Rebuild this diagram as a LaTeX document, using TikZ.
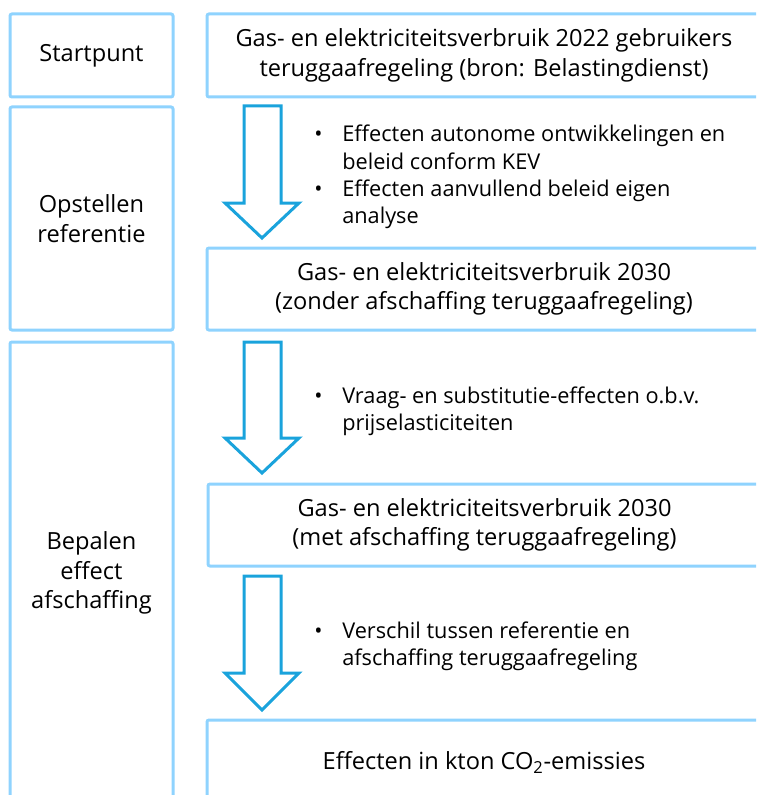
\documentclass[tikz,border=0pt]{standalone}
\usepackage{fontspec}
\setmainfont{Open Sans}
\usepackage{xcolor}
\usepackage{array}
\usetikzlibrary{positioning}

\newlength\px
\setlength\px{0.75pt}

\definecolor{boxblue}{HTML}{8FD3FE}
\definecolor{arrowblue}{HTML}{1AA3DC}

\begin{document}
\begin{tikzpicture}[
    x=0.75pt, y=-0.75pt,
    box/.style={rectangle, draw=boxblue, line width=3\px, rounded corners=2\px, align=center,
        inner sep=0pt, font=\fontsize{17.7}{22}\selectfont},
    blockarrow/.style={draw=arrowblue, line width=3\px, fill=white, line join=miter},
    bullets/.style={inner sep=0pt, anchor=base west, font=\fontsize{16.3}{20.5}\selectfont}
]
    \useasboundingbox (0,0) rectangle (756,795);
    \clip (0,0) rectangle (756,795);

    % Left column
    \node[box, minimum width=163\px, minimum height=83\px] (startpunt) at (91.5,55.5) {Startpunt};
    \node[box, minimum width=163\px, minimum height=223\px] (opstellen) at (91.5,218.5) {Opstellen\\referentie};
    \node[box, minimum width=163\px, minimum height=462\px] (bepalen) at (91.5,573) {Bepalen\\effect\\afschaffing};

    % Right column
    \node[box, minimum width=554\px, minimum height=83\px] (verbruik2022) at (484,55.5)
        {Gas- en elektriciteitsverbruik 2022 gebruikers\\teruggaafregeling (bron: Belastingdienst)};
    \node[box, minimum width=554\px, minimum height=82\px] (zonder) at (484,289)
        {Gas- en elektriciteitsverbruik 2030\\(zonder afschaffing teruggaafregeling)};
    \node[box, minimum width=553\px, minimum height=82\px] (met) at (484.5,525)
        {Gas- en elektriciteitsverbruik 2030\\(met afschaffing teruggaafregeling)};
    \node[box, minimum width=554\px, minimum height=84\px] (effecten) at (484,762)
        {Effecten in kton CO\textsubscript{2}-emissies};

    % Block arrows
    \draw[blockarrow] (244,106) -- (281,106) -- (281,203) -- (299,203) -- (262,238)
        -- (225,203) -- (244,203) -- cycle;
    \draw[blockarrow] (244,342) -- (281,342) -- (281,438) -- (299,438) -- (262,473)
        -- (225,438) -- (244,438) -- cycle;
    \draw[blockarrow] (244,576) -- (281,576) -- (281,673) -- (299,673) -- (262,710)
        -- (225,673) -- (244,673) -- cycle;

    % Notes
    \node[bullets] (note1) at (314,142) {\begin{tabular}[t]{@{}p{28\px}@{}l@{}}
        \textbullet & Effecten autonome ontwikkelingen en\\
                    & beleid conform KEV\\
        \textbullet & Effecten aanvullend beleid eigen\\
                    & analyse
    \end{tabular}};
    \node[bullets] (note2) at (314,403) {\begin{tabular}[t]{@{}p{28\px}@{}l@{}}
        \textbullet & Vraag- en substitutie-effecten o.b.v.\\
                    & prijselasticiteiten
    \end{tabular}};
    \node[bullets] (note3) at (314,638) {\begin{tabular}[t]{@{}p{28\px}@{}l@{}}
        \textbullet & Verschil tussen referentie en\\
                    & afschaffing teruggaafregeling
    \end{tabular}};
\end{tikzpicture}
\end{document}
